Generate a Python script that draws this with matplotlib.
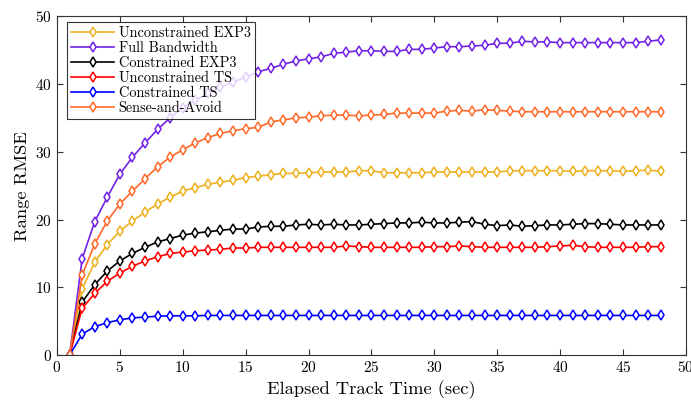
import matplotlib
matplotlib.use('Agg')
import matplotlib.pyplot as plt
import numpy as np

plt.rcParams['font.family'] = 'cmr10'
plt.rcParams['mathtext.fontset'] = 'cm'
plt.rcParams['axes.formatter.use_mathtext'] = True

# elapsed track time (sec)
t = np.arange(1, 49)

unc_exp3 = [0, 9.8, 13.7, 16.3, 18.3, 19.8, 21.1, 22.3, 23.3, 24.2, 24.7, 25.2, 25.5, 25.8, 26.2,
            26.4, 26.6, 26.8, 26.8, 26.9, 27.0, 27.0, 27.0, 27.2, 27.2, 26.9, 26.9, 26.9, 26.9, 27.0,
            27.0, 27.0, 27.0, 27.0, 27.0, 27.2, 27.2, 27.2, 27.2, 27.2, 27.1, 27.2, 27.2, 27.2, 27.1,
            27.2, 27.3, 27.1]
full_bw = [0, 14.2, 19.7, 23.3, 26.7, 29.2, 31.3, 33.3, 35.0, 36.5, 37.6, 38.6, 39.5, 40.3, 41.0,
           41.8, 42.3, 42.9, 43.4, 43.7, 44.0, 44.5, 44.7, 44.9, 44.9, 44.8, 44.8, 45.1, 45.1, 45.3,
           45.5, 45.5, 45.6, 45.7, 46.0, 46.0, 46.3, 46.2, 46.2, 46.1, 46.1, 46.1, 46.1, 46.1, 46.1,
           46.1, 46.3, 46.5]
con_exp3 = [0, 7.8, 10.4, 12.4, 13.9, 15.0, 15.9, 16.7, 17.2, 17.7, 18.0, 18.2, 18.4, 18.6, 18.6,
            18.9, 19.0, 19.0, 19.2, 19.3, 19.2, 19.3, 19.2, 19.2, 19.3, 19.4, 19.5, 19.5, 19.6, 19.5,
            19.5, 19.6, 19.7, 19.3, 19.1, 19.2, 19.0, 19.1, 19.2, 19.2, 19.3, 19.4, 19.4, 19.3, 19.2,
            19.2, 19.2, 19.2]
unc_ts = [0, 6.9, 9.1, 10.9, 12.1, 13.1, 13.9, 14.5, 15.0, 15.2, 15.4, 15.5, 15.6, 15.8, 15.8,
          15.9, 15.9, 15.9, 15.9, 15.9, 15.9, 15.9, 16.1, 16.0, 15.9, 15.9, 15.9, 15.9, 15.9, 16.0,
          16.0, 16.1, 16.0, 15.9, 15.9, 15.9, 15.9, 15.9, 16.0, 16.1, 16.2, 16.0, 15.9, 15.9, 15.9,
          15.9, 16.0, 16.0]
con_ts = [0, 3.1, 4.2, 4.8, 5.2, 5.5, 5.6, 5.75, 5.8, 5.8, 5.8, 5.85, 5.85, 5.85, 5.85,
          5.85, 5.85, 5.85, 5.85, 5.85, 5.85, 5.85, 5.85, 5.85, 5.85, 5.85, 5.85, 5.85, 5.85, 5.85,
          5.85, 5.85, 5.85, 5.85, 5.85, 5.85, 5.85, 5.85, 5.85, 5.85, 5.85, 5.85, 5.85, 5.85, 5.85,
          5.85, 5.85, 5.85]
saa = [0, 11.8, 16.4, 19.8, 22.3, 24.2, 26.0, 27.8, 29.2, 30.3, 31.3, 32.1, 32.7, 33.1, 33.4,
       33.6, 34.4, 34.7, 35.0, 35.1, 35.3, 35.4, 35.4, 35.3, 35.4, 35.5, 35.7, 35.7, 35.7, 35.7,
       36.0, 36.1, 36.0, 36.2, 36.1, 36.0, 35.9, 35.9, 35.9, 35.9, 35.9, 35.9, 35.9, 35.9, 35.9,
       35.9, 35.9, 35.9]

series = [
    ('Unconstrained EXP3', unc_exp3, '#EDB120'),
    ('Full Bandwidth', full_bw, '#7222E6'),
    ('Constrained EXP3', con_exp3, 'black'),
    ('Unconstrained TS', unc_ts, '#FF0000'),
    ('Constrained TS', con_ts, '#0000FF'),
    ('Sense-and-Avoid', saa, '#FF6A2A'),
]

fig = plt.figure(figsize=(6.91, 4.04), dpi=100)
ax = fig.add_axes([0.0825, 0.121, 0.910, 0.839])

for name, vals, col in series:
    ax.plot(t, vals, color=col, lw=1.2, marker='d', ms=5.5, mfc='white',
            mec=col, mew=1.1, label=name)

ax.set_xlim(0, 50)
ax.set_ylim(0, 50)
ax.set_xticks(np.arange(0, 51, 5))
ax.set_yticks(np.arange(0, 51, 10))
ax.tick_params(direction='in', top=True, right=True, labelsize=11, length=4.5, color='#333333')
for s in ax.spines.values():
    s.set_color('#333333')
    s.set_linewidth(0.8)

ax.set_xlabel('Elapsed Track Time (sec)', fontsize=13.3)
ax.set_ylabel('Range RMSE', fontsize=13.3)

leg = ax.legend(loc='upper left', bbox_to_anchor=(0.016, 0.982), fontsize=10.3,
                frameon=True, fancybox=False, edgecolor='black', borderpad=0.3,
                labelspacing=0.08, handlelength=3.0, handletextpad=0.3, borderaxespad=0)
leg.get_frame().set_linewidth(0.8)

fig.savefig('out.png', dpi=100)
